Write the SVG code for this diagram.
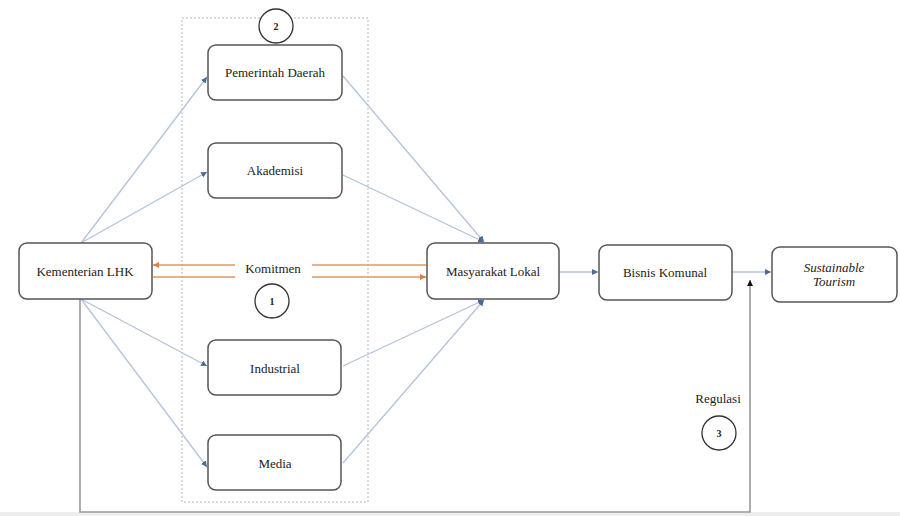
<svg xmlns="http://www.w3.org/2000/svg" width="900" height="516" viewBox="0 0 900 516">
<defs>
<style>
.box{fill:#fff;stroke:#555;stroke-width:1.5}
.t{font-family:"Liberation Serif","Times New Roman","DejaVu Serif",serif;font-size:13px;fill:#222;text-anchor:middle}
.it{font-style:italic}
.num{font-family:"Liberation Serif","Times New Roman","DejaVu Serif",serif;font-size:10px;font-weight:bold;fill:#222;text-anchor:middle}
.circ{fill:#fff;stroke:#333;stroke-width:1.3}
.blue{fill:none;stroke:#B3C3DA;stroke-width:1.3}
.orange{fill:none;stroke:#E3965E;stroke-width:1.6}
.grey{fill:none;stroke:#9A9A9A;stroke-width:1.6}
</style>
<marker id="ab" markerWidth="8" markerHeight="8" refX="6" refY="3" orient="auto" markerUnits="userSpaceOnUse">
<path d="M0,0 L6,3 L0,6 Z" fill="#4A6A9E"/>
</marker>
<marker id="ao" markerWidth="8" markerHeight="8" refX="6" refY="3" orient="auto" markerUnits="userSpaceOnUse">
<path d="M0,0 L6,3 L0,6 Z" fill="#D9823F"/>
</marker>
<marker id="ak" markerWidth="8" markerHeight="8" refX="6" refY="3" orient="auto" markerUnits="userSpaceOnUse">
<path d="M0,0 L6,3 L0,6 Z" fill="#111"/>
</marker>
</defs>
<rect width="900" height="516" fill="#fff"/>
<rect x="0" y="512" width="900" height="4" fill="#EDEDED"/>

<g id="stakeholder-group">
<rect x="182" y="18" width="186" height="484" fill="none" stroke="#B5B5B5" stroke-width="1" stroke-dasharray="2,2"/>
</g>

<g id="connectors">
<line class="blue" x1="81" y1="243" x2="207" y2="77" marker-end="url(#ab)"/>
<line class="blue" x1="81" y1="243" x2="207" y2="172" marker-end="url(#ab)"/>
<line class="blue" x1="81" y1="299" x2="207" y2="366" marker-end="url(#ab)"/>
<line class="blue" x1="81" y1="299" x2="207" y2="467" marker-end="url(#ab)"/>
<line class="blue" x1="343" y1="76" x2="484" y2="242" marker-end="url(#ab)"/>
<line class="blue" x1="343" y1="175" x2="484" y2="242" marker-end="url(#ab)"/>
<line class="blue" x1="343" y1="366" x2="484" y2="300" marker-end="url(#ab)"/>
<line class="blue" x1="343" y1="463" x2="484" y2="300" marker-end="url(#ab)"/>
<line class="blue" x1="559" y1="272" x2="598" y2="272" marker-end="url(#ab)"/>
<line class="blue" x1="732" y1="272" x2="771" y2="272" marker-end="url(#ab)"/>
<line class="orange" x1="426" y1="265" x2="312" y2="265"/>
<line class="orange" x1="235" y1="265" x2="153" y2="265" marker-end="url(#ao)"/>
<line class="orange" x1="153" y1="277" x2="235" y2="277"/>
<line class="orange" x1="312" y1="277" x2="426" y2="277" marker-end="url(#ao)"/>
<polyline class="grey" points="80,299 80,512 750,512 750,280" marker-end="url(#ak)"/>
</g>

<g id="circle-2">
<circle class="circ" cx="276" cy="26" r="17"/>
<text class="num" x="276" y="30">2</text>
</g>
<g id="pemerintah-daerah">
<rect class="box" x="208" y="45" width="134" height="55" rx="8"/>
<text class="t" x="275" y="77">Pemerintah Daerah</text>
</g>
<g id="akademisi">
<rect class="box" x="208" y="143" width="134" height="55" rx="8"/>
<text class="t" x="275" y="175">Akademisi</text>
</g>
<g id="kementerian-lhk">
<rect class="box" x="19" y="243" width="133" height="56" rx="8"/>
<text class="t" x="85" y="276">Kementerian LHK</text>
</g>
<g id="komitmen">
<text class="t" x="273" y="273">Komitmen</text>
</g>
<g id="circle-1">
<circle class="circ" cx="272" cy="301" r="17"/>
<text class="num" x="272" y="305">1</text>
</g>
<g id="masyarakat-lokal">
<rect class="box" x="427" y="243" width="132" height="56" rx="8"/>
<text class="t" x="493" y="276">Masyarakat Lokal</text>
</g>
<g id="bisnis-komunal">
<rect class="box" x="599" y="245" width="133" height="55" rx="8"/>
<text class="t" x="665" y="277">Bisnis Komunal</text>
</g>
<g id="sustainable-tourism">
<rect class="box" x="772" y="247" width="125" height="55" rx="8"/>
<text class="t it" x="834" y="272">Sustainable</text>
<text class="t it" x="834" y="286">Tourism</text>
</g>
<g id="industrial">
<rect class="box" x="208" y="340" width="133" height="55" rx="8"/>
<text class="t" x="275" y="373">Industrial</text>
</g>
<g id="media">
<rect class="box" x="208" y="435" width="133" height="55" rx="8"/>
<text class="t" x="275" y="468">Media</text>
</g>
<g id="regulasi">
<text class="t" x="718" y="403">Regulasi</text>
</g>
<g id="circle-3">
<circle class="circ" cx="719" cy="433" r="17"/>
<text class="num" x="719" y="437">3</text>
</g>
</svg>
